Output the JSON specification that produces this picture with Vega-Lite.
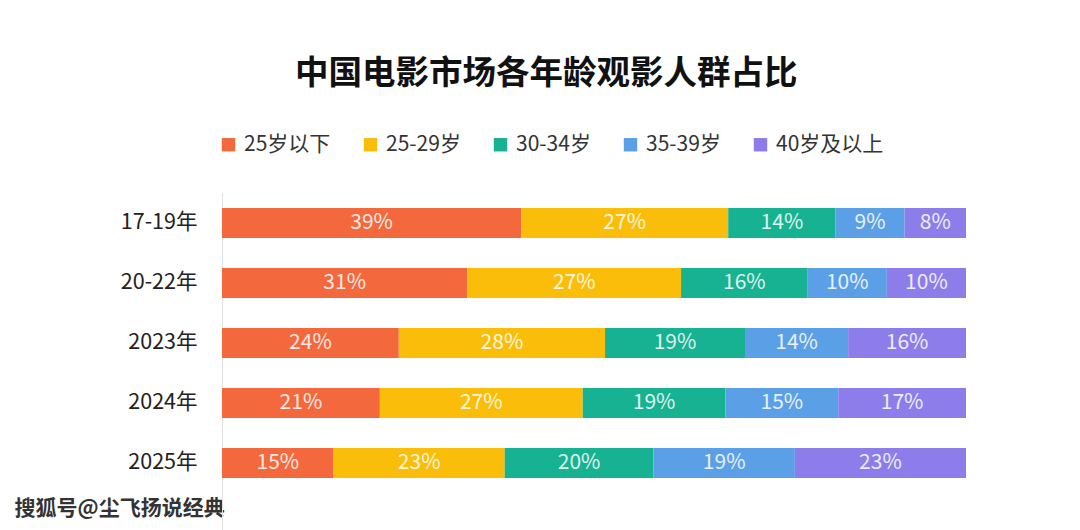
{
  "$schema": "https://vega.github.io/schema/vega-lite/v6.json",
  "autosize": "none",
  "width": 744,
  "height": 337,
  "padding": {"left": 222, "top": 193, "right": 114, "bottom": 0},
  "background": "white",
  "config": {
    "font": "Noto Sans CJK SC",
    "view": {"stroke": null}
  },
  "title": {
    "text": "中国电影市场各年龄观影人群占比",
    "anchor": "start",
    "frame": "group",
    "dx": 73,
    "offset": 43,
    "fontSize": 33.5,
    "fontWeight": "bold",
    "color": "#111111",
    "font": "Noto Sans CJK SC"
  },
  "data": {
    "values": [
      {"period": "17-19年", "group": "25岁以下", "rank": 1, "share": 0.39},
      {"period": "17-19年", "group": "25-29岁", "rank": 2, "share": 0.27},
      {"period": "17-19年", "group": "30-34岁", "rank": 3, "share": 0.14},
      {"period": "17-19年", "group": "35-39岁", "rank": 4, "share": 0.09},
      {"period": "17-19年", "group": "40岁及以上", "rank": 5, "share": 0.08},
      {"period": "20-22年", "group": "25岁以下", "rank": 1, "share": 0.31},
      {"period": "20-22年", "group": "25-29岁", "rank": 2, "share": 0.27},
      {"period": "20-22年", "group": "30-34岁", "rank": 3, "share": 0.16},
      {"period": "20-22年", "group": "35-39岁", "rank": 4, "share": 0.10},
      {"period": "20-22年", "group": "40岁及以上", "rank": 5, "share": 0.10},
      {"period": "2023年", "group": "25岁以下", "rank": 1, "share": 0.24},
      {"period": "2023年", "group": "25-29岁", "rank": 2, "share": 0.28},
      {"period": "2023年", "group": "30-34岁", "rank": 3, "share": 0.19},
      {"period": "2023年", "group": "35-39岁", "rank": 4, "share": 0.14},
      {"period": "2023年", "group": "40岁及以上", "rank": 5, "share": 0.16},
      {"period": "2024年", "group": "25岁以下", "rank": 1, "share": 0.21},
      {"period": "2024年", "group": "25-29岁", "rank": 2, "share": 0.27},
      {"period": "2024年", "group": "30-34岁", "rank": 3, "share": 0.19},
      {"period": "2024年", "group": "35-39岁", "rank": 4, "share": 0.15},
      {"period": "2024年", "group": "40岁及以上", "rank": 5, "share": 0.17},
      {"period": "2025年", "group": "25岁以下", "rank": 1, "share": 0.15},
      {"period": "2025年", "group": "25-29岁", "rank": 2, "share": 0.23},
      {"period": "2025年", "group": "30-34岁", "rank": 3, "share": 0.20},
      {"period": "2025年", "group": "35-39岁", "rank": 4, "share": 0.19},
      {"period": "2025年", "group": "40岁及以上", "rank": 5, "share": 0.23}
    ]
  },
  "encoding": {
    "y": {
      "field": "period",
      "type": "nominal",
      "sort": ["17-19年", "20-22年", "2023年", "2024年", "2025年"],
      "scale": {"paddingInner": 0.5, "paddingOuter": 0.5583, "align": 0.224},
      "axis": {
        "title": null,
        "ticks": false,
        "grid": false,
        "domain": true,
        "domainColor": "#e2e2e2",
        "domainWidth": 1,
        "labelPadding": 25,
        "labelFontSize": 21.5,
        "labelColor": "#222222",
        "labelFont": "Noto Sans CJK SC"
      }
    }
  },
  "layer": [
    {
      "mark": {"type": "bar"},
      "encoding": {
        "x": {
          "field": "share",
          "type": "quantitative",
          "stack": "normalize",
          "axis": {
            "title": "搜狐号@尘飞扬说经典",
            "labels": false,
            "ticks": false,
            "domain": false,
            "grid": false,
            "titleX": -208,
            "titleY": -16,
            "titleAlign": "left",
            "titleBaseline": "alphabetic",
            "titleFontSize": 21,
            "titleFontWeight": "bold",
            "titleColor": "#333333",
            "titleFont": "Noto Sans CJK SC"
          }
        },
        "color": {
          "field": "group",
          "type": "nominal",
          "scale": {
            "domain": ["25岁以下", "25-29岁", "30-34岁", "35-39岁", "40岁及以上"],
            "range": ["#F4683D", "#FABE0A", "#17B291", "#5BA0E6", "#8C7DEB"]
          },
          "legend": {
            "title": null,
            "orient": "none",
            "direction": "horizontal",
            "legendX": -4,
            "legendY": -59,
            "symbolType": "square",
            "symbolSize": 180,
            "symbolStrokeWidth": 0,
            "symbolOpacity": 1,
            "labelFontSize": 21,
            "labelColor": "#333333",
            "labelFont": "Noto Sans CJK SC",
            "labelOffset": 5,
            "columnPadding": 29,
            "padding": 0
          }
        },
        "order": {"field": "rank", "type": "quantitative"}
      }
    },
    {
      "transform": [
        {"stack": "share", "groupby": ["period"], "sort": [{"field": "rank", "order": "ascending"}], "offset": "normalize", "as": ["s0", "s1"]},
        {"fold": ["s0", "s1"], "as": ["edge", "pos"]}
      ],
      "mark": {"type": "text", "color": "white", "opacity": 0.85, "fontSize": 21, "baseline": "middle", "align": "center", "font": "Noto Sans CJK SC"},
      "encoding": {
        "x": {
          "aggregate": "mean",
          "field": "pos",
          "type": "quantitative",
          "axis": {
            "title": "搜狐号@尘飞扬说经典",
            "labels": false,
            "ticks": false,
            "domain": false,
            "grid": false,
            "titleX": -208,
            "titleY": -16,
            "titleAlign": "left",
            "titleBaseline": "alphabetic",
            "titleFontSize": 21,
            "titleFontWeight": "bold",
            "titleColor": "#333333",
            "titleFont": "Noto Sans CJK SC"
          }
        },
        "detail": {"field": "group", "type": "nominal"},
        "text": {"field": "share", "type": "quantitative", "format": ".0%"}
      }
    }
  ]
}
